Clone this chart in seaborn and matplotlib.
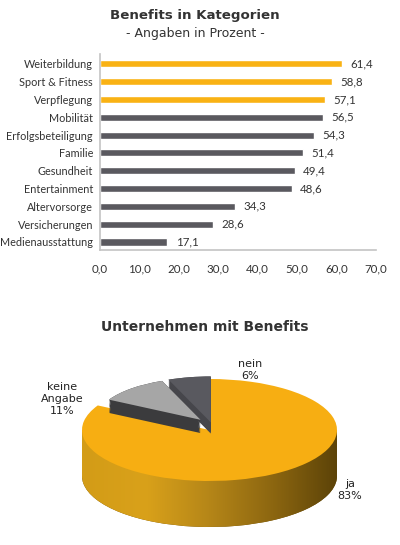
import matplotlib.pyplot as plt
import matplotlib.colors as mcolors
from matplotlib.patches import Rectangle
from matplotlib.ticker import FuncFormatter
import numpy as np
import pandas as pd
import seaborn as sns

# Benefits in Kategorien - Angaben in Prozent
kategorien = ['Weiterbildung', 'Sport & Fitness', 'Verpflegung', 'Mobilität', 'Erfolgsbeteiligung',
              'Familie', 'Gesundheit', 'Entertainment', 'Altervorsorge', 'Versicherungen',
              'Medienausstattung']
prozent = [61.4, 58.8, 57.1, 56.5, 54.3, 51.4, 49.4, 48.6, 34.3, 28.6, 17.1]
anzahl_top = 3
x_ticks = [0, 10, 20, 30, 40, 50, 60, 70]

# Unternehmen mit Benefits
pie_namen = ['ja', 'keine\nAngabe', 'nein']
pie_werte = [83, 11, 6]

ORANGE = '#f9b214'
GRAU = '#5a595f'
TEXT = '#333333'
LABEL_FONT = ['Lato', 'DejaVu Sans']

W, H = 400, 545


def fx(px):
    return px / W


def fy(py):
    return 1 - py / H


def komma(v):
    return f'{v:.1f}'.replace('.', ',')


sns.set_theme(style='white')
plt.rcParams['font.family'] = ['DejaVu Sans']

fig = plt.figure(figsize=(W / 100, H / 100), dpi=100)

# Titel
fig.text(fx(195), fy(16), 'Benefits in Kategorien', ha='center', va='center',
         fontsize=9.6, weight='bold', color=TEXT)
fig.text(fx(195), fy(33), '- Angaben in Prozent -', ha='center', va='center',
         fontsize=9, color=TEXT)

# Balkendiagramm
ax = fig.add_axes([fx(100), fy(250), fx(376) - fx(100), fy(54) - fy(250)])
df = pd.DataFrame({'Kategorie': kategorien, 'Prozent': prozent})
farben = [ORANGE if i < anzahl_top else GRAU for i in range(len(kategorien))]
sns.barplot(data=df, x='Prozent', y='Kategorie', hue='Kategorie', palette=farben, legend=False,
            width=0.4, saturation=1, ax=ax)

for cont in ax.containers:
    ax.bar_label(cont, labels=[komma(v) for v in cont.datavalues], padding=6,
                 fontsize=8.3, color=TEXT, family=LABEL_FONT)

ax.set_xlim(0, 70)
ax.set_ylim(10.45, -0.55)
ax.set_xticks(x_ticks)
ax.xaxis.set_major_formatter(FuncFormatter(lambda v, p: komma(v)))
ax.set_xlabel('')
ax.set_ylabel('')
ax.tick_params(axis='both', length=0, labelsize=8.3, labelcolor=TEXT)
ax.tick_params(axis='y', pad=5, labelsize=7.8)
ax.tick_params(axis='x', pad=10)
for lab in ax.get_xticklabels() + ax.get_yticklabels():
    lab.set_family(LABEL_FONT)
sns.despine(ax=ax)
for s in ['left', 'bottom']:
    ax.spines[s].set_color('#c4c4c4')
    ax.spines[s].set_linewidth(1.2)

# Tortendiagramm (3D-Optik)
fig.text(fx(205), fy(327), 'Unternehmen mit Benefits', ha='center', va='center',
         fontsize=10, weight='bold', color=TEXT)

cx, cy, rx, ry = 209.5, 430, 127.5, 51
tiefe = 46 / ry
pax = fig.add_axes([0, 0, 1, fy(340)])

oben_farben = ['#f7ae12', '#a6a6a6', '#59595f']
seite_farben = ['#6b4d0a', '#3b3b3d', '#46464b']
# herausgezogene Stücke: Mittelpunkt, Radius, Dicke
stuecke = {1: ((-0.07, 0.2), 0.82, 0.26), 2: ((0.01, 0.15), 0.9, 0.22)}

# Mantel des großen Stücks mit Farbverlauf
unten, _ = pax.pie(pie_werte, startangle=90, counterclock=False, center=(0, -tiefe),
                   colors=seite_farben, wedgeprops=dict(linewidth=0))
for w in unten[1:]:
    w.set_visible(False)
verlauf = mcolors.LinearSegmentedColormap.from_list(
    'verlauf', ['#d39c17', '#d9a11a', '#b58618', '#8c6610', '#5c4308'])
grad = np.linspace(0, 1, 256).reshape(1, -1)
for clip in [unten[0], Rectangle((-1, -tiefe), 2, tiefe, transform=pax.transData)]:
    im = pax.imshow(grad, extent=[-1, 1, -1 - tiefe, 0], aspect='auto', cmap=verlauf,
                    interpolation='bilinear', zorder=1)
    im.set_clip_path(clip)

# Deckfläche
oben, _ = pax.pie(pie_werte, startangle=90, counterclock=False, colors=oben_farben,
                  wedgeprops=dict(linewidth=0))
oben[0].set_zorder(2)

# Seiten der herausgezogenen Stücke
for k in np.linspace(1, 0, 12):
    lage, _ = pax.pie(pie_werte, startangle=90, counterclock=False, colors=seite_farben,
                      wedgeprops=dict(linewidth=0))
    lage[0].set_visible(False)
    for i, (mitte, r, d) in stuecke.items():
        lage[i].set_center((mitte[0], mitte[1] - k * d))
        lage[i].set_radius(r)
        lage[i].set_zorder(3)
for i, (mitte, r, d) in stuecke.items():
    oben[i].set_center(mitte)
    oben[i].set_radius(r)
    oben[i].set_zorder(4)

pax.set_aspect('auto')
pax.set_xlim((0 - cx) / rx, (W - cx) / rx)
pax.set_ylim((cy - H) / ry, (cy - 340) / ry)
pax.axis('off')

# Beschriftung der Stücke
pos = [(350, 490), (62, 399), (250, 370)]
for name, wert, (px, py) in zip(pie_namen, pie_werte, pos):
    fig.text(fx(px), fy(py), f'{name}\n{wert}%', ha='center', va='center', fontsize=8,
             linespacing=1.25, color='#222222')

fig.savefig('out.png', dpi=100)
